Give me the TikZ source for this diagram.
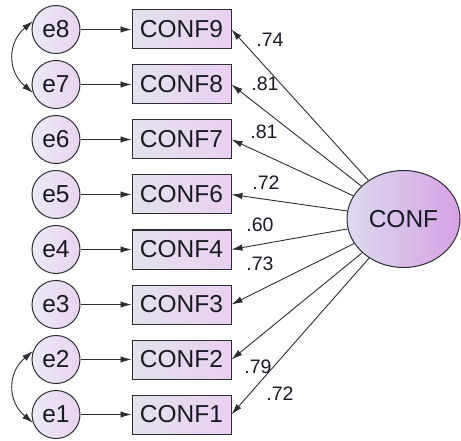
\documentclass[tikz,border=0pt]{standalone}
\usepackage{fontspec}
\setmainfont{Liberation Sans}
\definecolor{amosline}{RGB}{45,45,50}
\definecolor{amostext}{RGB}{25,25,35}
\definecolor{errleft}{RGB}{236,234,246}
\definecolor{errright}{RGB}{232,212,240}
\definecolor{boxleft}{RGB}{226,226,236}
\definecolor{boxright}{RGB}{234,208,242}
\definecolor{latleft}{RGB}{220,218,240}
\definecolor{latright}{RGB}{214,162,228}
\usetikzlibrary{arrows.meta,positioning,shapes.geometric}

\tikzset{
  errnode/.style={circle, draw=amosline, line width=1pt, left color=errleft,
                  right color=errright, minimum size=48pt, inner sep=0pt},
  obsbox/.style={rectangle, draw=amosline, line width=1pt, left color=boxleft,
                 right color=boxright, minimum width=99pt, minimum height=39pt, inner sep=0pt},
  latent/.style={ellipse, draw=amosline, line width=1pt, left color=latleft,
                 right color=latright, minimum width=113pt, minimum height=97pt, inner sep=0pt},
  path/.style={-{Latex[length=11pt,width=6.5pt]}, line width=0.9pt, amosline},
  cov/.style={{Latex[length=11pt,width=6.5pt]}-{Latex[length=11pt,width=6.5pt]}, line width=0.9pt, amosline},
  loading/.style={font=\fontsize{19.5}{22}\selectfont, inner sep=0pt}
}

\begin{document}
\begin{tikzpicture}[x=1pt, y=1pt, font=\fontsize{24.5}{28}\selectfont, text=amostext]
  \useasboundingbox (0,0) rectangle (461,440);
  % Latent factor
  \node[latent] (conf) at (403.5,221) {CONF};
  % Error terms, indicators and loadings paths
  \foreach \c/\e/\y in {9/8/410.5, 8/7/355.5, 7/6/300.5, 6/5/245.5,
                        4/4/190.5, 3/3/135.5, 2/2/80.5, 1/1/25.5} {
    \node[errnode] (e\e) at (56,\y) {e\e};
    \node[obsbox] (c\c) at (181.5,\y) {CONF\c};
    \draw[path] (e\e) -- (c\c);
    \draw[path] (conf) -- (c\c.east);
  }
  % Standardised loadings
  \node[loading] (l9) at (270,400) {.74};
  \node[loading] (l8) at (265,356) {.81};
  \node[loading] (l7) at (264,308) {.81};
  \node[loading] (l6) at (266,257) {.72};
  \node[loading] (l4) at (260,215) {.60};
  \node[loading] (l3) at (260,176) {.73};
  \node[loading] (l2) at (258,73) {.79};
  \node[loading] (l1) at (280,46) {.72};
  % Error covariances
  \draw[cov] (e8.160) to[out=220, in=140, looseness=1.2] (e7.200);
  \draw[cov] (e2.160) to[out=220, in=140, looseness=1.2] (e1.200);
\end{tikzpicture}
\end{document}
